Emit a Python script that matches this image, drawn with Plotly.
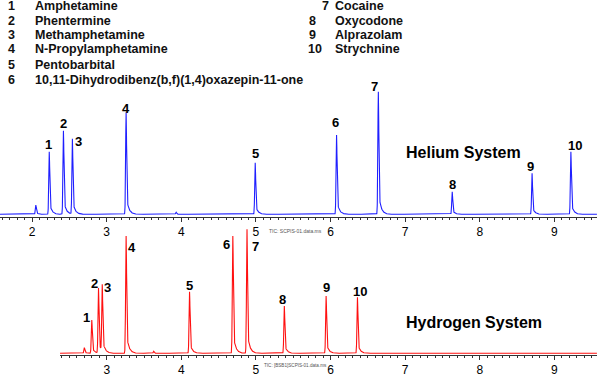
import numpy as np
import plotly.graph_objects as go

# ---------------- data ----------------
compound_ids = ["1", "2", "3", "4", "5", "6", "7", "8", "9", "10"]
compound_names = ["Amphetamine", "Phentermine", "Methamphetamine", "N-Propylamphetamine",
                  "Pentobarbital", "10,11-Dihydrodibenz(b,f)(1,4)oxazepin-11-one",
                  "Cocaine", "Oxycodone", "Alprazolam", "Strychnine"]

# Helium system: retention times (min) and heights (arb.) of labelled peaks
he_rt = [2.23, 2.42, 2.54, 3.26, 4.99, 6.08, 6.64, 7.63, 8.70, 9.22]
he_height = [62.6, 83.6, 75.3, 102.0, 51.6, 79.3, 122.6, 22.6, 41.0, 62.6]
he_minor_rt = [2.05, 3.93]
he_minor_height = [9.3, 2.0]

# Hydrogen system
h2_rt = [2.80, 2.89, 2.94, 3.26, 4.11, 4.69, 4.88, 5.38, 5.94, 6.36]
h2_height = [33.3, 65.0, 66.6, 117.3, 61.6, 117.3, 124.0, 47.3, 57.3, 56.0]
h2_minor_rt = [2.70, 3.63]
h2_minor_height = [5.6, 2.0]

tick_vals = [2, 3, 4, 5, 6, 7, 8, 9]

# --------------- styling ---------------
BLUE = "#1f1fff"
RED = "#ff1010"
AX = "#333333"
FONT = "Liberation Sans, Arial, sans-serif"

# label offsets (px) from peak apex to label centre
he_lab_dx = [-1, 0, 6, 0, 0, -1, -4, 0, -2, 4]
he_lab_dy = [-7, -7, 2, -4, -9, -13, -5, -7, -7, -6]
h2_lab_dx = [-5, -4, 5, 6, 0, -6, 8, -2, 0, 3]
h2_lab_dy = [-3, -5, 1, 12, -6, 9, 17, -7, -9, -6]


def chromatogram(t, rts, hs):
    y = np.zeros_like(t)
    s = 0.0065
    tau = 0.03
    for t0, h in zip(rts, hs):
        d = t - t0
        g = np.exp(-0.5 * (d / s) ** 2)
        tail = np.where(d >= 0, np.exp(-np.clip(d, 0, None) / tau), 0.0)
        y += h * np.where(d < 0, g, 0.8 * g + 0.2 * tail)
    return y


he_range = [1.57, 9.57]
h2_range = [2.374, 9.57]
t_he = np.arange(he_range[0], he_range[1], 0.001)
t_h2 = np.arange(h2_range[0] + 0.001, h2_range[1], 0.001)
y_he = chromatogram(t_he, he_rt + he_minor_rt, he_height + he_minor_height)
y_h2 = chromatogram(t_h2, h2_rt + h2_minor_rt, h2_height + h2_minor_height)

fig = go.Figure()
fig.add_trace(go.Scatter(x=t_he, y=y_he, mode="lines", line=dict(color=BLUE, width=1.1),
                         xaxis="x", yaxis="y", hoverinfo="skip", showlegend=False))
fig.add_trace(go.Scatter(x=t_h2, y=y_h2, mode="lines", line=dict(color=RED, width=1.1),
                         xaxis="x2", yaxis="y2", hoverinfo="skip", showlegend=False))

axis_common = dict(showgrid=False, zeroline=False, showline=True, linecolor=AX, linewidth=1,
                   ticks="outside", ticklen=4, tickcolor=AX, tickwidth=1,
                   tickvals=tick_vals, ticktext=[str(v) for v in tick_vals],
                   tickfont=dict(family=FONT, size=12, color="#000000"),
                   minor=dict(dtick=0.1, ticks="outside", ticklen=2, tickcolor=AX, showgrid=False))

fig.update_layout(
    width=600, height=378,
    margin=dict(l=0, r=0, t=0, b=0),
    paper_bgcolor="white", plot_bgcolor="white",
    xaxis=dict(domain=[0, 0.995], range=he_range, anchor="y", **axis_common),
    yaxis=dict(domain=[0.4267, 0.775], range=[-2.4, 129.3], visible=False),
    xaxis2=dict(domain=[0.1, 0.995], range=h2_range, anchor="y2", **axis_common),
    yaxis2=dict(domain=[0.0608, 0.4048], range=[-1.7, 128.3], visible=False),
)

ann = []
# peak labels
for lab, rt, h, dx, dy in zip(compound_ids, he_rt, he_height, he_lab_dx, he_lab_dy):
    ann.append(dict(x=rt, y=h, xref="x", yref="y", text=f"<b>{lab}</b>", showarrow=False,
                    xshift=dx, yshift=-dy, font=dict(family=FONT, size=13, color="#000")))
for lab, rt, h, dx, dy in zip(compound_ids, h2_rt, h2_height, h2_lab_dx, h2_lab_dy):
    ann.append(dict(x=rt, y=h, xref="x2", yref="y2", text=f"<b>{lab}</b>", showarrow=False,
                    xshift=dx, yshift=-dy, font=dict(family=FONT, size=13, color="#000")))

# system titles
ann.append(dict(x=7.78, y=62, xref="x", yref="y", text="<b>Helium System</b>", showarrow=False,
                font=dict(family=FONT, size=16, color="#000")))
ann.append(dict(x=7.92, y=31, xref="x2", yref="y2", text="<b>Hydrogen System</b>", showarrow=False,
                font=dict(family=FONT, size=16, color="#000")))

# TIC captions
ann.append(dict(x=267 / 600, y=1 - 231 / 378, xref="paper", yref="paper", xanchor="left",
                text="TIC: SCPIS-01.data.ms", showarrow=False,
                font=dict(family=FONT, size=5, color="#555")))
ann.append(dict(x=262 / 600, y=1 - 370 / 378, xref="paper", yref="paper", xanchor="left",
                text="TIC: [BSB1]SCPIS-01.data.ms", showarrow=False,
                font=dict(family=FONT, size=4.6, color="#555")))

# compound key
row_y = [6, 21, 35, 49.5, 64.5, 79.5]
for i, (cid, name) in enumerate(zip(compound_ids, compound_names)):
    if i < 6:
        nx, tx, yy = 6, 33, row_y[i]
    else:
        nx, tx, yy = (320 if cid == "7" else (306 if cid == "10" else 307)), 333, row_y[i - 6]
    ann.append(dict(x=nx / 600, y=1 - yy / 378, xref="paper", yref="paper", xanchor="left",
                    yanchor="middle", text=f"<b>{cid}</b>", showarrow=False,
                    font=dict(family=FONT, size=12.5, color="#111")))
    ann.append(dict(x=tx / 600, y=1 - yy / 378, xref="paper", yref="paper", xanchor="left",
                    yanchor="middle", text=f"<b>{name}</b>", showarrow=False,
                    font=dict(family=FONT, size=12.5, color="#111")))

fig.update_layout(annotations=ann)
fig.write_html("out.html")
